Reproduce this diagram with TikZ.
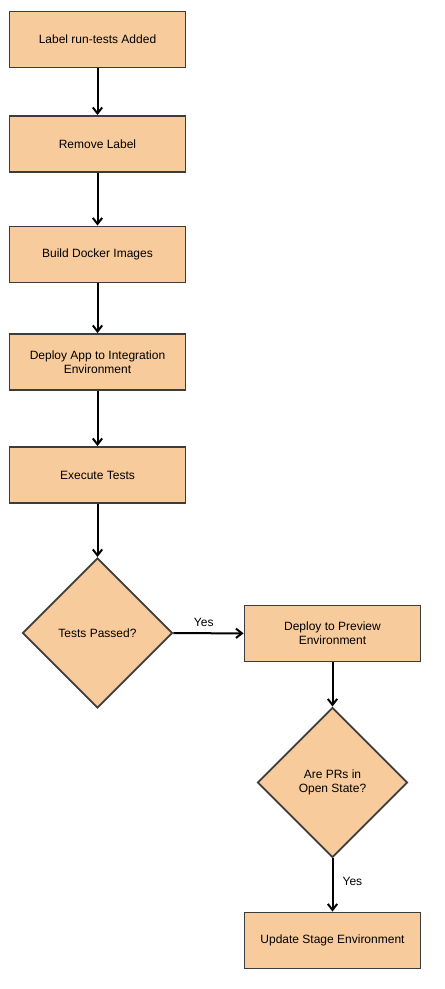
\documentclass[tikz,border=0pt]{standalone}
\usepackage{fontspec}
\setmainfont{Liberation Sans}
\usepackage{tikz}
\usetikzlibrary{shapes.geometric,arrows.meta}
\definecolor{boxfill}{HTML}{F8CB9C}
\definecolor{boxline}{HTML}{3C3C3C}

\begin{document}
\begin{tikzpicture}
[
  x=0.75pt,
  y=-0.75pt,
  font=\fontsize{9pt}{10.5pt}\selectfont,
	stepbox/.style={draw=boxline,line width=1.4pt,fill=boxfill,minimum width=132pt,minimum height=42pt,inner sep=2pt,align=center},
	decision/.style={diamond,draw=boxline,line width=1.4pt,fill=boxfill,aspect=1,minimum size=112.5pt,inner sep=0pt,align=center},
	flow/.style={line width=1.5pt,-{Straight Barb[length=4.5pt,width=7pt]}}
]

\useasboundingbox (0,0) rectangle (445,989);

\node[stepbox] (added) at(97.5,39.5) {Label run-tests Added};
\node[stepbox] (remove) at(97.5,144) {Remove Label};
\node[stepbox] (build) at(97.5,254.5) {Build Docker Images};
\node[stepbox] (deploy) at(97.5,362) {Deploy App to Integration\\Environment};
\node[stepbox] (exec) at(97.5,475) {Execute Tests};

\node[decision] (passed) at(97.5,633) {Tests Passed?};

\node[stepbox] (preview) at(332.5,633.5) {Deploy to Preview\\Environment};
\node[decision] (open) at(332.5,782.5) {Are PRs in\\Open State?};
\node[stepbox] (stage) at(332.5,940.5) {Update Stage Environment};

\draw [flow] (added) -- (remove);
\draw [flow] (remove) -- (build);
\draw [flow] (build) -- (deploy);
\draw [flow] (deploy) -- (exec);
\draw [flow] (exec) -- (passed);
\draw [flow] (passed) -- node[above,xshift=-3.5pt,yshift=1pt] {Yes} (preview);
\draw [flow] (preview) -- (open);
\draw [flow] (open) -- node[right,xshift=3.5pt,yshift=3pt] {Yes} (stage);

\end{tikzpicture}
\end{document}
